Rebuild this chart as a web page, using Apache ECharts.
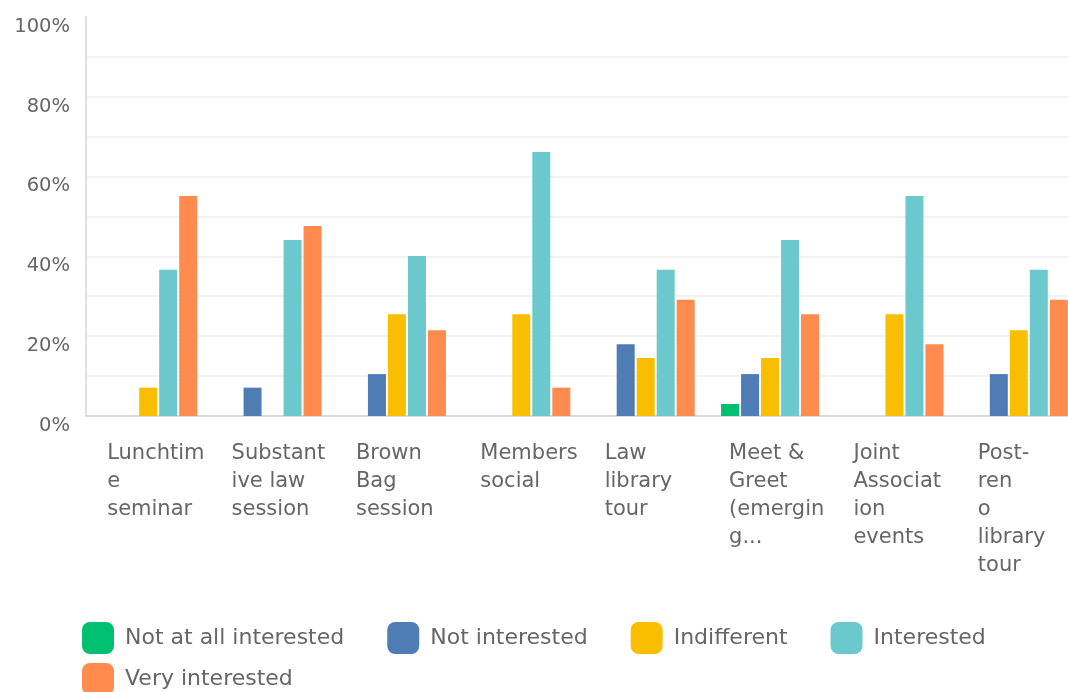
<!DOCTYPE html>
<html>
<head>
<meta charset="utf-8">
<script src="https://cdn.jsdelivr.net/npm/echarts@6/dist/echarts.min.js"></script>
<style>
html,body{margin:0;padding:0;background:#fff;}
#c{width:1068px;height:692px;}
</style>
</head>
<body>
<div id="c"></div>
<script>
var categories = [
  'Lunchtim\ne\nseminar',
  'Substant\nive law\nsession',
  'Brown\nBag\nsession',
  'Members\nsocial',
  'Law\nlibrary\ntour',
  'Meet &\nGreet\n(emergin\ng...',
  'Joint\nAssociat\nion\nevents',
  'Post-\nren\no\nlibrary\ntour'
];
var seriesNames = ['Not at all interested', 'Not interested', 'Indifferent', 'Interested', 'Very interested'];
var notAtAll      = [0, 0, 0, 0, 0, 3.0, 0, 0];
var notInterested = [0, 7.1, 10.5, 0, 18.0, 10.5, 0, 10.5];
var indifferent   = [7.1, 0, 25.5, 25.5, 14.5, 14.5, 25.5, 21.5];
var interested    = [36.6, 44.1, 40.1, 66.1, 36.6, 44.1, 55.1, 36.6];
var veryInterested= [55.1, 47.6, 21.5, 7.1, 29.1, 25.5, 18.0, 29.1];
var yTicks = [0, 20, 40, 60, 80, 100];

var colors = ['#00BF6F', '#507CB6', '#F9BE00', '#6BC8CD', '#FF8B4F'];
var allData = [notAtAll, notInterested, indifferent, interested, veryInterested];
var font = 'DejaVu Sans';

var gridColors = [];
for (var i = 0; i <= 10; i++) gridColors.push(i === 10 ? 'rgba(0,0,0,0)' : '#eeeeee');

var legendText = { fontFamily: font, fontSize: 22, color: '#666', padding: [0, 0, 0, 6] };

var chart = echarts.init(document.getElementById('c'));
chart.setOption({
  animation: false,
  color: colors,
  grid: { left: 86, top: 16.7, right: -13, bottom: 276, containLabel: false, outerBoundsMode: 'none' },
  legend: [
    {
      data: seriesNames.slice(0, 4),
      left: 82, top: 622, orient: 'horizontal', padding: 0,
      itemWidth: 32, itemHeight: 32, itemGap: 43, icon: 'roundRect',
      textStyle: legendText
    },
    {
      data: seriesNames.slice(4),
      left: 82, top: 663, orient: 'horizontal', padding: 0,
      itemWidth: 32, itemHeight: 32, icon: 'roundRect',
      textStyle: legendText
    }
  ],
  xAxis: {
    type: 'category',
    data: categories,
    axisTick: { show: false },
    axisLine: { lineStyle: { color: '#d4d4d4', width: 1.5 } },
    axisLabel: {
      interval: 0,
      margin: 24,
      align: 'center',
      verticalAlign: 'top',
      formatter: function (v) {
        return v.split('\n').map(function (s) { return '{a|' + s + '}'; }).join('\n');
      },
      rich: {
        a: { width: 82, align: 'left', fontFamily: font, fontSize: 21, color: '#666', lineHeight: 28 }
      }
    }
  },
  yAxis: {
    type: 'value',
    min: 0, max: 100, interval: 10,
    axisLine: { show: true, lineStyle: { color: '#d4d4d4', width: 1.5 } },
    axisTick: { show: false },
    splitLine: { show: true, lineStyle: { color: gridColors, width: 1.5 } },
    axisLabel: {
      margin: 16,
      fontFamily: font, fontSize: 19.5, color: '#666',
      verticalAlign: 'top',
      lineHeight: 20,
      formatter: function (v) { return yTicks.indexOf(v) >= 0 ? v + '%' : ''; }
    }
  },
  series: seriesNames.map(function (name, k) {
    return {
      name: name,
      type: 'bar',
      data: allData[k],
      barWidth: 18,
      barGap: '11.1%',
      itemStyle: { color: colors[k] }
    };
  })
});
</script>
</body>
</html>
